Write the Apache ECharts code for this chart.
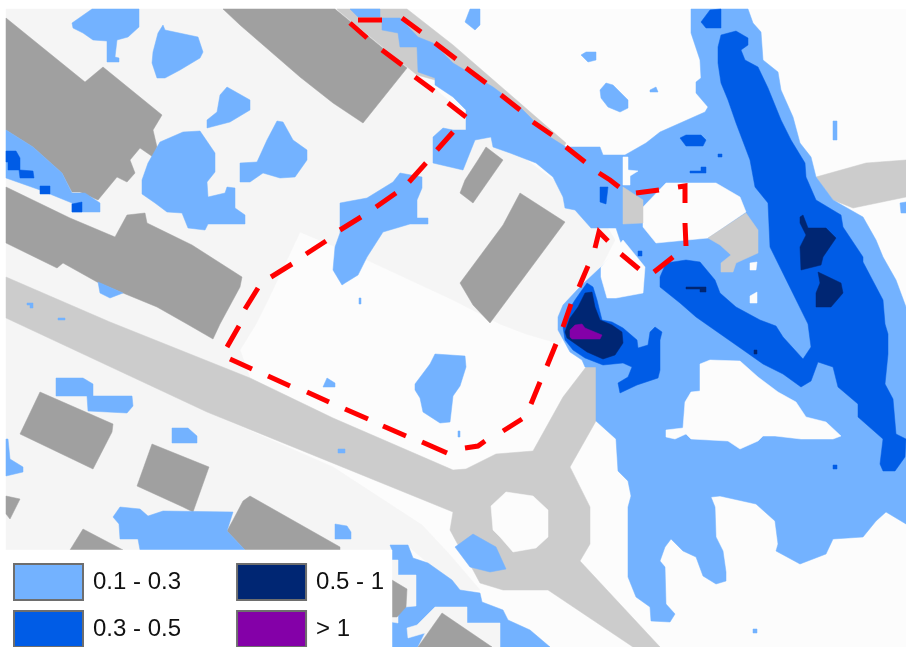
<!DOCTYPE html>
<html><head><meta charset="utf-8">
<style>html,body{margin:0;padding:0;background:#fff}#c{width:906px;height:647px}</style>
<script src="https://cdn.jsdelivr.net/npm/echarts@6/dist/echarts.min.js"></script>
</head><body><div id="c"></div>
<script>
const legendRowOne = ['0.1 - 0.3','0.5 - 1'];
const legendRowTwo = ['0.3 - 0.5','> 1'];

const mapArea = [[[6,9],[906,9],[906,647],[6,647]]];
const yards = [
 [[6,9],[340,9],[460,110],[600,215],[615,240],[601,267],[590,280],[560,344],[526,334],[500,324],[453,300],[367,260],[300,232],[268,300],[256,324],[240,350],[250,378],[110,322],[6,277]],
 [[6,318],[207,412],[333,467],[422,525],[450,555],[480,590],[460,590],[452,580],[428,563],[408,546],[392,546],[392,550],[6,550]]
];
const roads = [
 [[6,277],[110,322],[250,378],[333,418],[453,470],[466,469],[496,454],[533,451],[563,397],[586,367],[596,367],[596,421],[570,467],[590,507],[590,544],[580,561],[660,647],[633,647],[548,590],[503,590],[480,583],[473,570],[457,543],[450,530],[453,512],[207,412],[6,318]],
 [[337,9],[407,9],[453,45],[566,143],[563,148],[453,85],[417,75],[340,12]],
 [[816,177],[866,163],[906,160],[906,197],[853,208],[833,200]]
];
const buildings = [
 [[223,9],[335,9],[407,68],[363,123],[333,103],[300,77],[240,25]],
 [[6,18],[85,82],[103,67],[162,115],[153,130],[157,147],[153,157],[140,148],[130,160],[135,173],[127,182],[117,177],[98,200],[80,192],[72,192],[62,173],[33,147],[6,130]],
 [[6,187],[70,218],[115,237],[127,215],[145,213],[147,223],[192,245],[242,277],[240,287],[220,324],[213,339],[187,324],[157,307],[123,293],[97,282],[63,263],[57,268],[6,243]],
 [[40,392],[113,424],[112,432],[93,469],[20,434]],
 [[152,444],[209,467],[193,512],[183,507],[137,486]],
 [[6,496],[20,499],[10,519],[6,514]],
 [[250,496],[340,547],[340,550],[245,550],[227,531],[233,520],[243,501]],
 [[83,529],[123,550],[70,550]],
 [[486,147],[503,160],[473,203],[460,193],[465,180],[478,160]],
 [[520,193],[565,222],[490,323],[473,305],[460,283],[503,225]]
];
const depth01 = [
 [[382,18],[400,18],[418,37],[433,43],[453,63],[493,87],[520,107],[550,137],[566,147],[600,147],[603,155],[625,155],[646,143],[660,132],[705,112],[708,107],[696,93],[696,82],[701,78],[700,60],[691,33],[691,9],[748,9],[753,23],[761,32],[763,60],[778,72],[781,90],[793,117],[800,143],[811,157],[816,177],[833,200],[863,217],[876,240],[883,257],[896,280],[906,307],[906,524],[886,512],[876,521],[863,537],[833,539],[826,554],[800,564],[776,551],[778,544],[775,521],[756,504],[720,496],[711,497],[715,507],[716,537],[723,551],[726,572],[726,581],[716,584],[703,576],[696,557],[683,551],[671,539],[665,547],[660,561],[665,567],[666,604],[675,614],[670,622],[651,621],[650,607],[636,597],[628,577],[628,507],[631,496],[628,481],[618,471],[616,439],[596,421],[596,367],[585,367],[582,360],[570,352],[558,330],[558,317],[563,305],[577,290],[585,282],[601,267],[622,245],[620,240],[616,228],[591,228],[575,210],[565,208],[563,197],[553,177],[536,163],[510,153],[493,147],[491,137],[475,140],[463,170],[433,163],[433,137],[443,128],[453,130],[466,130],[466,110],[453,97],[435,85],[435,78],[418,72],[417,47],[400,47],[398,33],[382,30]],
 [[350,9],[380,9],[380,17],[358,17]],
 [[72,23],[92,9],[139,9],[139,27],[128,37],[117,40],[115,57],[119,58],[119,62],[107,62],[107,41],[93,40],[83,33],[73,28]],
 [[163,25],[165,30],[198,37],[203,52],[200,58],[180,70],[165,78],[157,78],[152,63],[153,52],[158,33]],
 [[227,87],[250,100],[250,110],[230,122],[207,128],[207,120],[217,112],[220,95]],
 [[277,121],[283,122],[293,140],[307,150],[307,160],[295,177],[280,178],[263,173],[250,182],[240,182],[240,163],[257,162],[267,140]],
 [[160,142],[183,132],[200,131],[215,153],[215,172],[207,182],[208,197],[225,193],[227,187],[235,188],[235,208],[245,215],[245,224],[208,224],[205,230],[188,228],[182,213],[167,212],[155,203],[142,194],[142,180],[148,163]],
 [[340,203],[367,198],[393,182],[400,173],[422,177],[422,188],[417,200],[417,218],[428,218],[428,224],[410,224],[383,232],[367,257],[358,275],[345,283],[342,285],[333,270],[335,247],[340,233]],
 [[6,130],[33,147],[62,173],[72,193],[85,193],[100,203],[100,212],[72,212],[72,203],[40,190],[6,178]],
 [[98,282],[123,293],[110,298],[100,293]],
 [[27,303],[33,303],[33,308],[30,308],[30,305],[27,305]],
 [[58,318],[65,318],[65,320],[58,320]],
 [[359,298],[361,298],[361,304],[359,304]],
 [[465,22],[470,9],[480,9],[480,25],[475,30]],
 [[581,55],[586,52],[596,52],[596,60],[588,62]],
 [[600,90],[606,83],[613,85],[628,100],[628,108],[620,112],[608,107],[601,98]],
 [[650,90],[656,87],[658,92],[650,92]],
 [[833,121],[837,121],[837,140],[833,140]],
 [[900,203],[906,202],[906,213],[901,213]],
 [[56,378],[83,378],[93,384],[93,396],[132,396],[133,406],[127,413],[88,411],[87,396],[56,396]],
 [[172,428],[188,428],[197,436],[197,443],[172,443]],
 [[6,439],[8,439],[10,459],[23,467],[23,472],[6,476]],
 [[113,517],[120,507],[140,509],[148,516],[163,511],[233,512],[227,531],[245,550],[140,550],[138,539],[120,539],[119,524]],
 [[335,524],[347,526],[351,532],[351,539],[335,539]],
 [[323,387],[327,378],[335,383],[335,387]],
 [[338,449],[345,449],[345,453],[338,453]],
 [[415,384],[430,364],[435,354],[465,356],[466,367],[460,386],[453,396],[450,422],[440,423],[423,412],[420,398],[415,390]],
 [[458,431],[460,431],[460,437],[458,437]],
 [[455,547],[473,534],[496,547],[506,569],[490,572],[470,567]],
 [[390,545],[408,545],[413,558],[428,563],[452,580],[460,590],[480,593],[482,602],[503,610],[508,620],[530,630],[550,647],[392,647],[392,550]],
 [[753,629],[757,629],[757,633],[753,633]]
];
const dryPatches = [
 [[700,364],[710,360],[740,361],[758,377],[778,392],[796,402],[806,417],[826,422],[841,436],[833,439],[801,439],[775,436],[763,436],[758,441],[740,449],[728,441],[691,439],[686,434],[675,439],[666,437],[666,430],[683,428],[685,402],[691,392],[700,391]],
 [[643,207],[666,183],[716,183],[740,197],[746,212],[708,238],[656,243],[643,227]],
 [[623,157],[628,157],[628,170],[638,171],[630,176],[630,185],[623,185]],
 [[601,267],[623,240],[645,267],[643,293],[616,298],[607,298],[601,277]],
 [[750,263],[757,262],[756,270],[750,270]],
 [[750,296],[757,292],[757,303],[750,303]],
 [[491,506],[506,492],[533,496],[548,510],[548,537],[536,548],[513,552],[500,537],[493,530]]
];
const roadPatches = [
 [[623,187],[643,200],[643,223],[623,224]],
 [[708,238],[746,213],[758,230],[758,253],[736,263],[733,272],[721,272],[721,263],[731,255],[720,245]]
];
const restoredYards = [
 [[392,560],[398,560],[398,575],[416,575],[416,606],[405,607],[398,613],[398,623],[392,622]],
 [[407,628],[417,625],[435,607],[467,607],[467,623],[500,623],[500,647],[418,647],[425,633],[408,638]]
];
const restoredBuildings = [
 [[392,580],[407,589],[406,607],[397,617],[392,617]],
 [[418,647],[442,613],[492,647]]
];
const depth03 = [
 [[721,35],[736,31],[748,38],[748,45],[741,50],[745,60],[758,67],[768,88],[781,120],[791,140],[805,163],[806,177],[816,200],[841,215],[843,227],[863,257],[863,262],[883,300],[885,324],[888,334],[888,354],[885,384],[893,399],[896,434],[906,439],[905,457],[895,471],[883,471],[880,464],[883,439],[858,417],[858,404],[838,387],[833,367],[818,362],[811,381],[801,387],[783,374],[763,364],[746,352],[706,324],[696,317],[680,303],[660,287],[660,277],[666,263],[686,260],[700,262],[715,280],[720,293],[736,307],[760,320],[776,326],[783,337],[803,359],[811,347],[808,324],[770,247],[768,203],[755,187],[750,160],[736,123],[728,100],[721,83],[718,63],[718,47]],
 [[701,22],[710,10],[721,9],[721,28],[706,28]],
 [[680,138],[686,135],[701,135],[706,140],[703,146],[686,146]],
 [[718,154],[722,154],[722,157],[718,157]],
 [[690,171],[701,171],[701,167],[706,167],[706,173],[690,173]],
 [[600,187],[608,187],[606,204],[600,202]],
 [[638,251],[642,251],[642,256],[638,256]],
 [[833,465],[837,465],[837,469],[833,469]],
 [[563,327],[567,313],[575,300],[582,290],[587,283],[593,287],[597,300],[602,320],[612,322],[623,328],[637,340],[638,348],[648,345],[650,332],[655,327],[662,332],[660,340],[660,370],[658,378],[637,385],[620,393],[618,383],[628,377],[632,367],[623,363],[603,365],[585,358],[573,350],[565,340]],
 [[6,151],[16,151],[20,158],[20,170],[33,171],[34,178],[20,178],[19,170],[8,170],[8,162],[6,162]],
 [[40,186],[50,186],[50,194],[40,194]],
 [[72,204],[82,202],[82,212],[72,212]]
];
const depth05 = [
 [[565,332],[570,318],[578,307],[585,293],[592,292],[595,307],[600,320],[612,325],[622,332],[623,343],[615,355],[603,359],[587,352],[577,345],[567,338]],
 [[800,217],[803,215],[808,228],[826,228],[836,238],[823,257],[821,265],[801,270],[800,247],[806,235],[800,223]],
 [[818,272],[841,283],[843,293],[831,307],[816,307],[816,293],[820,283]],
 [[686,287],[706,287],[706,292],[700,292],[700,289],[686,289]],
 [[754,350],[757,350],[757,354],[754,354]]
];
const depth1 = [
 [[570,330],[575,325],[582,324],[585,328],[602,335],[600,339],[572,339],[570,337]]
];
const legendPanel = [[[0,550],[392,550],[392,647],[0,647]]];
const siteBoundary = [
 [[350,23],[367,38]],[[358,20],[382,20]],[[402,18],[421,32]],[[435,43],[456,59]],[[466,68],[486,83]],[[501,95],[520,110]],
 [[533,122],[552,135]],[[566,147],[585,162]],[[599,173],[610,180],[619,187]],[[636,193],[659,190]],[[678,187],[685,186],[685,203]],
 [[685,223],[686,246]],[[673,257],[654,272]],[[639,269],[621,254]],[[608,241],[599,232],[595,248]],[[588,266],[579,287]],
 [[571,304],[563,327]],[[556,344],[547,366]],[[540,382],[531,404]],[[522,419],[503,431]],[[485,441],[478,446],[465,448]],
 [[447,453],[422,442]],[[406,436],[383,426]],[[368,419],[345,409]],[[329,402],[307,392]],[[290,386],[268,376]],[[252,369],[230,359]],
 [[227,347],[239,326]],[[245,309],[258,288]],[[271,277],[292,264]],[[306,254],[326,241]],[[340,230],[361,217]],[[376,207],[396,193]],
 [[409,182],[426,163]],[[437,150],[453,132]],[[448,103],[466,117]],[[415,77],[434,91]],[[382,50],[402,65]]
];

function layer(name, polys, color, z){
  return {
    type:'custom', name, coordinateSystem:'cartesian2d', z, silent:true, clip:false,
    itemStyle:{color},
    encode:{x:0,y:1},
    data: polys.map(function(p,i){return [p[0][0],p[0][1],i];}),
    renderItem:function(params,api){
      var pts = polys[api.value(2)].map(function(q){return api.coord(q);});
      return {type:'polygon',shape:{points:pts},style:{fill:color,stroke:color,lineWidth:0.5}};
    }
  };
}
const boundaryData = [];
siteBoundary.forEach(function(d){d.forEach(function(p){boundaryData.push(p);});boundaryData.push([null,null]);});

const C = {light:'#73b2ff',mid:'#005ce6',dark:'#002673',purple:'#8400a8'};
const series = [
  layer('map',mapArea,'#fcfcfc',1),
  layer('yards',yards,'#f5f5f5',2),
  layer('roads',roads,'#cccccc',3),
  layer('buildings',buildings,'#a0a0a0',4),
  layer(legendRowOne[0],depth01,C.light,5),
  layer('dry',dryPatches,'#fcfcfc',6),
  layer('roadp',roadPatches,'#cccccc',7),
  layer('yardr',restoredYards,'#f5f5f5',7),
  layer('buildr',restoredBuildings,'#a0a0a0',8),
  layer(legendRowTwo[0],depth03,C.mid,9),
  layer(legendRowOne[1],depth05,C.dark,10),
  layer(legendRowTwo[1],depth1,C.purple,11),
  {type:'line',name:'boundary',z:12,silent:true,symbol:'none',connectNulls:false,animation:false,
   data:boundaryData,lineStyle:{color:'#ff0000',width:5,cap:'butt',join:'miter'}},
  layer('panel',legendPanel,'#ffffff',13)
];
function legendRow(names, top){
  return {
    left:13,top:top,z:20,selectedMode:false,icon:'rect',orient:'horizontal',
    itemWidth:69,itemHeight:36,itemGap:55,padding:0,
    data:names.map(function(n){return {name:n,itemStyle:{borderColor:'#6e6e6e',borderWidth:2}};}),
    textStyle:{fontFamily:'Liberation Sans',fontSize:24,color:'#111',padding:[0,0,0,5]}
  };
}
const chart = echarts.init(document.getElementById('c'));
chart.setOption({
  animation:false,
  backgroundColor:'#ffffff',
  grid:{left:0,right:0,top:0,bottom:0},
  xAxis:{type:'value',min:0,max:906,show:false},
  yAxis:{type:'value',min:0,max:647,inverse:true,show:false},
  legend:[legendRow(legendRowOne,563),legendRow(legendRowTwo,610)],
  series:series
});
</script></body></html>
